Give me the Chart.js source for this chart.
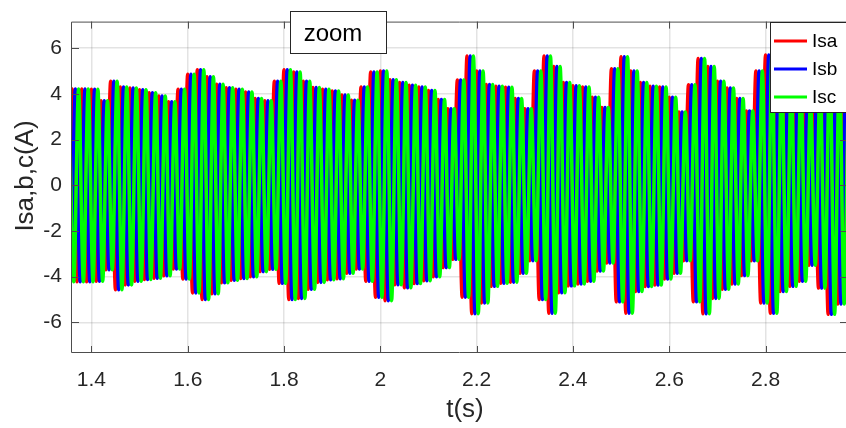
<!DOCTYPE html>
<html>
<head>
<meta charset="utf-8">
<script src="https://cdn.jsdelivr.net/npm/chart.js@4.4.1/dist/chart.umd.min.js"></script>
<style>
html, body { margin: 0; padding: 0; background: #fff; overflow: hidden; }
#wrap { width: 846px; height: 428px; overflow: hidden; position: relative; }
#wrap canvas { position: absolute; left: 0; top: 0; }
</style>
</head>
<body>
<div id="wrap"><canvas id="courants" width="849" height="428" style="width:849px;height:428px"></canvas></div>
<script>
// crêtes relevées cycle par cycle (50 Hz), à partir de t0
var t0 = 1.34;
var periode = 0.02;

// valeur de crête positive de chaque cycle (A)
var enveloppeHaut = [
    4.21, 4.21, 4.21, 4.2, 3.7, 4.55, 4.3, 4.25, 4.18, 4.05,
    3.9, 3.65, 4.2, 4.86, 5.05, 4.75, 4.42, 4.27, 4.2, 4.08,
    3.8, 3.7, 4.55, 5.05, 4.95, 4.55, 4.28, 4.2, 4.12, 3.95,
    3.72, 4.3, 4.95, 5.0, 4.62, 4.5, 4.38, 4.3, 4.15, 3.75,
    3.35, 4.6, 5.65, 5.0, 4.41, 4.33, 4.29, 3.8, 3.35, 5.0,
    5.65, 5.2, 4.5, 4.35, 4.3, 3.85, 3.4, 5.1, 5.62, 5.0,
    4.5, 4.33, 4.3, 3.85, 3.2, 4.4, 5.55, 5.2, 4.55, 4.25,
    3.8, 3.25, 5.0, 5.7, 4.9, 4.5, 4.3, 3.6, 4.3, 5.55,
    5.15, 4.5, 4.35
];

// valeur de crête négative de chaque cycle (A)
var enveloppeBas = [
    -4.22, -4.22, -4.22, -4.2, -3.7, -4.57, -4.36, -4.2, -4.12, -4.07,
    -3.96, -3.66, -4.1, -4.71, -5.0, -4.75, -4.27, -4.16, -4.08, -4.0,
    -3.78, -3.68, -4.29, -5.0, -4.95, -4.55, -4.25, -4.14, -4.09, -3.85,
    -3.66, -4.2, -4.9, -5.05, -4.35, -4.48, -4.3, -4.18, -4.0, -3.6,
    -3.24, -4.9, -5.62, -5.15, -4.42, -4.29, -4.24, -3.85, -3.3, -5.0,
    -5.6, -4.7, -4.4, -4.32, -4.2, -3.75, -3.4, -5.1, -5.6, -4.65,
    -4.43, -4.37, -4.1, -3.85, -3.3, -5.1, -5.62, -4.95, -4.55, -4.32,
    -3.95, -3.3, -5.15, -5.6, -4.65, -4.42, -4.2, -3.5, -4.5, -5.65,
    -5.2, -4.45, -4.3
];

var legende = ['Isa', 'Isb', 'Isc'];
var couleurs = ['#ff0000', '#0000ff', '#00ff00'];
var dephasage = [0, 1 / 150, 2 / 150]; // 120° et 240° à 50 Hz

var xTicks = [1.4, 1.6, 1.8, 2, 2.2, 2.4, 2.6, 2.8];
var xTickLabels = ['1.4', '1.6', '1.8', '2', '2.2', '2.4', '2.6', '2.8'];
var yTicks = [-6, -4, -2, 0, 2, 4, 6];

var police = '"Liberation Sans", Arial, Helvetica, sans-serif';

// une crête positive puis une crête négative par cycle
function phase(decalage) {
    var pts = [];
    for (let k = 0; k < enveloppeHaut.length; k++) {
        var t = t0 + k * periode + decalage;
        pts.push({ x: t, y: enveloppeHaut[k] });
        pts.push({ x: t + periode / 2, y: enveloppeBas[k] });
    }
    return pts;
}

var datasets = [];
for (let i = 0; i < legende.length; i++) {
    datasets.push({
        label: legende[i],
        data: phase(dephasage[i]),
        borderColor: couleurs[i],
        backgroundColor: couleurs[i],
        borderWidth: 3.5,
        pointRadius: 0,
        cubicInterpolationMode: 'monotone',
        order: legende.length - i // Isc dessinée par-dessus
    });
}

// cadre, graduations intérieures, boîtes "zoom" et légende, titres d'axes
var habillage = {
    id: 'habillage',
    afterDraw: function (chart) {
        var c = chart.ctx;
        var a = chart.chartArea;
        var xs = chart.scales.x;
        var ys = chart.scales.y;
        c.save();

        c.strokeStyle = '#4d4d4d';
        c.lineWidth = 1;
        c.beginPath();
        c.rect(a.left + 0.5, a.top + 0.5, a.right - a.left - 1, a.bottom - a.top - 1);
        xTicks.forEach(function (v) {
            var x = Math.round(xs.getPixelForValue(v)) + 0.5;
            c.moveTo(x, a.bottom); c.lineTo(x, a.bottom - 7);
            c.moveTo(x, a.top); c.lineTo(x, a.top + 7);
        });
        yTicks.forEach(function (v) {
            var y = Math.round(ys.getPixelForValue(v)) + 0.5;
            c.moveTo(a.left, y); c.lineTo(a.left + 8, y);
            c.moveTo(a.right, y); c.lineTo(a.right - 8, y);
        });
        c.stroke();

        // boîte "zoom"
        c.fillStyle = '#fff';
        c.fillRect(290, 11, 97, 43);
        c.strokeStyle = '#262626';
        c.strokeRect(290.5, 11.5, 96, 42);
        c.fillStyle = '#000';
        c.font = '24px ' + police;
        c.textAlign = 'center';
        c.textBaseline = 'alphabetic';
        c.fillText('zoom', 333, 41);

        // légende
        c.fillStyle = '#fff';
        c.fillRect(770, 22, 90, 91);
        c.strokeStyle = '#262626';
        c.strokeRect(770.5, 22.5, 90, 90);
        var lignes = [41, 69, 97];
        c.font = '19px ' + police;
        c.textAlign = 'left';
        c.textBaseline = 'middle';
        for (let i = 0; i < legende.length; i++) {
            c.strokeStyle = couleurs[i];
            c.lineWidth = 3;
            c.beginPath();
            c.moveTo(774, lignes[i]);
            c.lineTo(807, lignes[i]);
            c.stroke();
            c.fillStyle = '#000';
            c.fillText(legende[i], 812, lignes[i] + 1);
        }

        // titres des axes
        c.fillStyle = '#262626';
        c.font = '26px ' + police;
        c.textAlign = 'center';
        c.textBaseline = 'alphabetic';
        c.fillText('t(s)', 465, 417);
        c.translate(33, 176);
        c.rotate(-Math.PI / 2);
        c.fillText('Isa,b,c(A)', 0, 0);
        c.restore();
    }
};

var ctx = document.getElementById('courants').getContext('2d');
var chart = new Chart(ctx, {
    type: 'line',
    data: { datasets: datasets },
    options: {
        responsive: false,
        animation: false,
        events: [],
        layout: { padding: { top: 7, right: 1, left: 0, bottom: 0 } },
        scales: {
            x: {
                type: 'linear',
                min: 1.3576,
                max: 2.9712,
                afterFit: function (s) { s.height = 75; },
                afterBuildTicks: function (s) {
                    s.ticks = xTicks.map(function (v) { return { value: v }; });
                },
                ticks: {
                    padding: 15,
                    color: '#262626',
                    font: { family: police, size: 21 },
                    callback: function (v, i) { return xTickLabels[i]; }
                },
                grid: { color: 'rgba(38,38,38,0.13)', lineWidth: 1.5, drawTicks: false },
                border: { display: false }
            },
            y: {
                min: -7.34,
                max: 7.16,
                afterFit: function (s) { s.width = 71; },
                afterBuildTicks: function (s) {
                    s.ticks = yTicks.map(function (v) { return { value: v }; });
                },
                ticks: {
                    padding: 9,
                    color: '#262626',
                    font: { family: police, size: 21 },
                    callback: function (v) { return String(v); }
                },
                grid: { color: 'rgba(38,38,38,0.13)', lineWidth: 1.5, drawTicks: false },
                border: { display: false }
            }
        },
        plugins: {
            legend: { display: false },
            tooltip: { enabled: false }
        }
    },
    plugins: [habillage]
});
</script>
</body>
</html>
